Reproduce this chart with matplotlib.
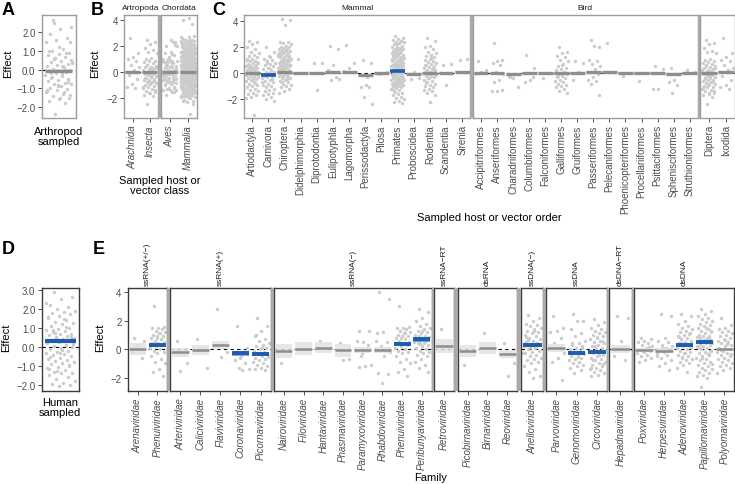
import matplotlib
matplotlib.use('Agg')
import matplotlib.pyplot as plt
from matplotlib.patches import Rectangle
import numpy as np

plt.rcParams['font.family'] = ['Liberation Sans', 'DejaVu Sans']

# ---------------------------------------------------------------- data
# Panel C - mammal orders
mammal_orders = ['Artiodactyla', 'Carnivora', 'Chiroptera', 'Didelphimorphia', 'Diprotodontia',
                 'Eulipotyphla', 'Lagomorpha', 'Perissodactyla', 'Pilosa', 'Primates',
                 'Proboscidea', 'Rodentia', 'Scandentia', 'Sirenia']
artiodactyla = [2.45, 2.4, 2.2, 2.0, 1.8, 1.6, 1.5, 1.4, 1.3, 1.2, 1.1, 1.0, 0.95, 0.9, 0.8, 0.75, 0.7, 0.6,
                0.55, 0.5, 0.45, 0.4, 0.35, 0.3, 0.25, 0.2, 0.15, 0.1, 0.05, 0.0, -0.05, -0.1, -0.15, -0.2,
                -0.25, -0.3, -0.35, -0.4, -0.45, -0.5, -0.6, -0.7, -0.8, -0.9, -1.0, -1.1, -1.2, -1.3, -1.4,
                -1.5, -1.6, -1.7, -1.8, -1.9, -3.2, 0.65, 0.85, -0.55, 1.05, -0.75, 0.3, -0.2]
carnivora = [2.0, 1.6, 1.3, 1.1, 1.0, 0.9, 0.8, 0.7, 0.6, 0.5, 0.4, 0.3, 0.2, 0.1, 0.05, 0.0, -0.1, -0.2,
             -0.3, -0.4, -0.5, -0.6, -0.7, -0.8, -0.9, -1.0, -1.1, -1.2, -1.3, -1.4, -1.5, -1.6, -1.7, -1.8,
             -2.0, -2.1, 0.35, -0.25, -0.45, 0.75, -0.65, 1.2]
chiroptera = [4.15, 4.05, 3.7, 2.4, 2.35, 2.3, 2.2, 2.1, 2.0, 1.95, 1.9, 1.85, 1.8, 1.75, 1.7, 1.65, 1.6,
              1.55, 1.5, 1.45, 1.4, 1.35, 1.3, 1.25, 1.2, 1.15, 1.1, 1.05, 1.0, 0.95, 0.9, 0.85, 0.8, 0.75,
              0.7, 0.65, 0.6, 0.55, 0.5, 0.45, 0.4, 0.35, 0.3, 0.25, 0.2, 0.15, 0.1, 0.05, 0.0, -0.05, -0.1,
              -0.15, -0.2, -0.25, -0.3, -0.35, -0.4, -0.5, -0.6, -0.7, -0.8, -0.9, -1.0, -1.1, -1.2, -1.35,
              -1.5, 1.0, 0.8, 0.6, 0.4, 0.2, 0.0, -0.2, 1.3, 1.7, 0.9, 0.5, 0.3, 0.1, -0.45, -0.65]
didelphimorphia = [1.1]
diprotodontia = [0.8, 0.75, -1.3]
eulipotyphla = [2.05, 1.8, 0.65, 0.2, -0.3, -0.5, -0.45, 0.05]
lagomorpha = [2.15, 0.75, 0.35, 0.15]
perissodactyla = [1.0, 0.8, -0.9, -1.05, -1.1, -1.8, -2.4, -0.3]
pilosa = [-0.1, 0.05, 0.0]
primates = [2.8, 2.7, 2.6, 2.5, 2.45, 2.4, 2.35, 2.3, 2.2, 2.1, 2.0, 1.95, 1.9, 1.85, 1.8, 1.75, 1.7, 1.65,
            1.6, 1.55, 1.5, 1.45, 1.4, 1.35, 1.3, 1.25, 1.2, 1.15, 1.1, 1.05, 1.0, 0.95, 0.9, 0.85, 0.8, 0.75,
            0.7, 0.65, 0.6, 0.55, 0.5, 0.45, 0.4, 0.35, 0.3, 0.25, 0.2, 0.15, 0.1, 0.05, 0.0, -0.05, -0.1,
            -0.15, -0.2, -0.25, -0.3, -0.35, -0.4, -0.45, -0.5, -0.55, -0.6, -0.65, -0.7, -0.75, -0.8, -0.85,
            -0.9, -0.95, -1.0, -1.05, -1.1, -1.15, -1.2, -1.3, -1.4, -1.5, -1.6, -1.7, -1.8, -1.9, -2.0, -2.1,
            -2.2, -2.3, 1.3, 1.1, 0.9, 0.7, 0.5, 0.3, 0.1, -0.1, -0.3, -0.5, -0.7, -0.9, 1.8, 2.2, -1.25, 0.6,
            0.4, 0.2, 0.0, -0.2, -0.4, 1.6, 1.0, -0.6, -1.45]
proboscidea = [-0.45, -0.35, 0.1, -0.1]
rodentia = [2.7, 2.45, 2.1, 2.0, 1.8, 1.6, 1.5, 1.4, 1.3, 1.2, 1.1, 1.0, 0.9, 0.85, 0.8, 0.7, 0.6, 0.5, 0.45,
            0.4, 0.3, 0.25, 0.2, 0.1, 0.05, 0.0, -0.05, -0.1, -0.2, -0.25, -0.3, -0.4, -0.5, -0.6, -0.7, -0.8,
            -0.9, -1.0, -1.1, -1.2, -1.3, -1.4, -1.55, -1.7, -2.2, 0.65, 0.35, -0.35, -0.15, 1.15, -0.75, 0.15]
scandentia = [0.65, 0.7, -0.9, 0.0]
sirenia = [1.0, 1.1, 0.1]
mammal_means = [0.0, -0.15, 0.08, 0.02, 0.0, 0.08, 0.08, -0.15, 0.0, 0.15, -0.05, -0.03, 0.0, 0.05]
mammal_sig = [0, 1, 0, 0, 0, 0, 0, 0, 0, 1, 0, 0, 0, 0]

# Panel C - bird orders
bird_orders = ['Accipitriformes', 'Anseriformes', 'Charadriiformes', 'Columbiformes', 'Falconiformes',
               'Galliformes', 'Gruiformes', 'Passeriformes', 'Pelecaniformes', 'Phoenicopteriformes',
               'Procellariiformes', 'Psittaciformes', 'Sphenisciformes', 'Struthioniformes']
accipitriformes = [0.9, 0.2, 0.1, 0.0]
anseriformes = [2.3, 1.0, 0.9, 0.8, 0.6, 0.1, -0.1, -0.5, -0.7, -1.3, -1.35, -1.4]
charadriiformes = [-0.3, -1.1, -0.4, -0.2]
columbiformes = [1.4, 0.4, -0.5, -0.7, -0.3]
falconiformes = [-0.35, 0.0]
galliformes = [2.0, 1.6, 1.5, 1.3, 1.2, 1.0, 0.9, 0.7, 0.5, 0.4, 0.3, 0.2, 0.1, 0.0, -0.1, -0.2, -0.3, -0.4,
               -0.5, -0.6, -0.7, -0.8, -0.9, -1.0, -1.1, -1.2, -1.35, -1.5, 0.6, -0.25]
gruiformes = [0.9, 0.8, 0.1, -0.5, 0.0]
passeriformes = [2.5, 2.0, 2.1, 1.0, 0.9, 0.7, 0.5, 0.3, 0.1, -0.1, -0.3, -0.5, -0.6, -0.8, -1.7]
pelecaniformes = [2.3, 0.05]
phoenicopteriformes = [-0.2, 0.0]
procellariiformes = [-0.6, 0.0]
psittaciformes = [0.5, 0.3, -1.2, -1.25, 0.0]
sphenisciformes = [0.4, -0.1, -0.5, -0.7, -0.9, -1.5]
struthioniformes = [0.2, 0.1]
bird_means = [0.02, 0.0, -0.05, 0.0, 0.0, -0.03, 0.03, 0.05, 0.07, -0.02, -0.02, -0.02, -0.08, 0.03]

# Panel C - arthropod orders
arth_orders = ['Diptera', 'Ixodida']
diptera = [2.5, 2.3, 2.2, 1.9, 1.7, 1.6, 1.5, 1.1, 1.0, 0.9, 0.85, 0.8, 0.7, 0.6, 0.5, 0.45, 0.4, 0.3, 0.25,
           0.2, 0.1, 0.05, 0.0, -0.05, -0.1, -0.15, -0.2, -0.3, -0.35, -0.4, -0.5, -0.55, -0.6, -0.7, -0.75,
           -0.8, -0.9, -1.0, -1.05, -1.1, -1.2, -1.3, -1.4, -1.5, -1.6, -1.7, -1.8, -2.4, 0.35, -0.25, -0.45,
           -0.65, -0.85, -1.15, 0.15, 0.55, -1.35, -1.55]
ixodida = [2.65, 1.5, 1.2, 1.0, 0.9, 0.6, 0.4, 0.2, -0.2, -0.5, -0.9, -1.1, -1.2]
arth_means = [-0.02, 0.05]

# Panel B - classes (aggregated from the orders)
class_groups = ['Artropoda', 'Chordata']
arth_classes = ['Arachnida', 'Insecta']
chord_classes = ['Aves', 'Mammalia']
class_means = [0.0, 0.0, 0.0, 0.0]

# Panel A / D
arthropod_mean = -0.05
human_sampled = [2.9, 2.6, 2.5, 2.2, 2.1, 2.0, 1.9, 1.85, 1.8, 1.7, 1.6, 1.5, 1.4, 1.3, 1.25, 1.2, 1.1, 1.0,
                 0.95, 0.9, 0.85, 0.8, 0.7, 0.65, 0.6, 0.55, 0.5, 0.45, 0.4, 0.35, 0.3, 0.25, 0.2, 0.1, 0.05,
                 0.0, -0.05, -0.1, -0.2, -0.25, -0.3, -0.4, -0.45, -0.5, -0.6, -0.65, -0.7, -0.75, -0.8, -0.85,
                 -0.9, -1.0, -1.05, -1.1, -1.2, -1.3, -1.35, -1.4, -1.5, -1.6, -1.7, -1.8, -1.9, -1.95, -2.0,
                 -2.05, 1.55, 1.05, 0.75, 0.15, -0.15, -0.55, -0.95, -1.25, 2.3, 1.45, 0.9, 0.5, -0.35, -1.15]
human_mean = 0.28
human_ci = 0.1

# Panel E - virus families
genome_types = ['ssRNA(+/−)', 'ssRNA(+)', 'ssRNA(−)', 'ssRNA−RT', 'dsRNA', 'ssDNA(−)', 'ssDNA',
                'dsDNA−RT', 'dsDNA']
families = [['Arenaviridae', 'Phenuiviridae'],
            ['Arteriviridae', 'Caliciviridae', 'Flaviviridae', 'Coronaviridae', 'Picornaviridae'],
            ['Nairoviridae', 'Filoviridae', 'Hantaviridae', 'Phasmaviridae', 'Paramyxoviridae',
             'Rhabdoviridae', 'Phenuiviridae', 'Peribunyaviridae'],
            ['Retroviridae'],
            ['Picobirnaviridae', 'Birnaviridae', 'Reoviridae'],
            ['Anelloviridae'],
            ['Parvoviridae', 'Genomoviridae', 'Circoviridae'],
            ['Hepadnaviridae'],
            ['Poxviridae', 'Herpesviridae', 'Adenoviridae', 'Papillomaviridae', 'Polyomaviridae']]
arenaviridae = [0.8, 0.6, 0.3, -0.2, -0.6, 0.1]
phenuiviridae = [3.0, 1.55, 1.5, 1.45, 1.4, 1.3, 1.2, 1.1, 1.0, 0.95, 0.9, 0.8, 0.7, 0.6, 0.5, 0.45, 0.4, 0.3,
                 0.2, 0.1, 0.0, -0.1, -0.2, -0.3, -0.5, -0.7, -0.9, -1.0, -1.4, -1.6, -1.9, 0.75, 0.35, 1.15]
arteriviridae = [0.6, -1.0, -1.55]
caliciviridae = [0.7, -1.3]
flaviviridae = [2.8, -0.2, -0.55]
coronaviridae = [1.6, 0.05, -0.5, -0.8, -1.0, -1.3, -1.4, -1.5, -0.3, -0.2, -0.6]
picornaviridae = [2.2, 1.6, 1.3, 0.9, 0.7, 0.6, 0.4, 0.3, 0.2, 0.1, 0.0, -0.1, -0.2, -0.3, -0.4, -0.5, -0.6,
                  -0.7, -0.8, -0.9, -1.0, -1.1, -1.2, -1.3, -1.4, -1.5, -0.35, -0.55, 0.05, 1.0]
nairoviridae = [-0.99]
filoviridae = []
hantaviridae = [0.55]
phasmaviridae = [0.45, -0.7, -0.75]
paramyxoviridae = [1.3, 1.25, 0.5, 0.6, 0.0, -0.5, -1.1, -1.2, -1.25, 0.3, -0.3]
rhabdoviridae = [4.0, 3.5, 1.2, 1.1, 0.5, 0.2, -0.2, -0.5, -1.7, -1.75, -2.4, 0.6, -0.1]
peribunyaviridae = [2.8, 2.6, 2.2, 2.0, 1.8, 1.6, 1.5, 1.4, 1.3, 1.2, 1.1, 1.0, 0.95, 0.9, 0.85, 0.8, 0.7,
                    0.65, 0.6, 0.5, 0.45, 0.4, 0.3, 0.2, 0.1, 0.0, -0.1, -0.2, -0.3, -0.4, -0.5, -0.7, -0.9,
                    -1.1, -1.3, -1.6, 1.25, 0.75, 0.55, 0.35]
retroviridae = [1.4]
picobirnaviridae = [-1.1]
birnaviridae = [1.15]
reoviridae = [0.4, -1.0, -1.9]
anelloviridae = [2.4, 2.2, 2.0, 1.8, 1.7, 1.6, 1.5, 1.4, 1.3, 1.2, 1.1, 1.0, 0.9, 0.8, 0.7, 0.6, 0.5, 0.4,
                 0.3, 0.2, 0.1, 0.0, -0.1, -0.2, -0.3, -0.4, -0.5, -0.6, -0.7, -0.8, -0.9, -1.0, -1.2, -1.4,
                 -1.6, -1.9, -2.0, 0.85, 0.45, 0.15, -0.25, 1.25, 0.65]
parvoviridae = [2.3, 1.5, 1.3, 1.2, 0.8, 0.4, -0.3, -0.6, -0.9, -2.2, 0.1]
genomoviridae = [2.45, 2.0, 1.95, 1.4, 1.1, 0.9, 0.6, 0.4, 0.3, 0.2, 0.1, 0.0, -0.1, -0.2, -0.3, -0.4, -0.5,
                 -0.6, -0.7, -0.8, -0.9, -1.0, -1.1, -1.2, -1.3, -1.5, -1.7, -0.35, -0.55, 0.45, 0.05]
circoviridae = [2.1, 1.9, 1.7, 1.5, 1.4, 1.3, 1.2, 1.1, 1.0, 0.9, 0.8, 0.7, 0.6, 0.5, 0.4, 0.3, 0.2, 0.1, 0.0,
                -0.1, -0.2, -0.3, -0.4, -0.5, -0.6, -0.7, -0.8, -0.9, -1.0, -1.1, -1.2, -1.3, -1.4, -1.5, -1.6,
                -1.7, -1.8, -1.9, 0.55, 0.25, -0.15, -0.45, -0.75, -1.05, 0.85, -1.35]
hepadnaviridae = [2.3, 2.2, 0.6, -0.5, -0.8, 0.1]
poxviridae = [0.8, 0.7, 0.6, 0.5, 0.4, 0.3, 0.2, 0.1, 0.0, -0.1, -0.2, -0.3, -0.4, -0.5, -0.6, -0.8, -0.9,
              0.15, -0.15]
herpesviridae = [2.5, 2.3, 0.8, 0.6, 0.5, 0.3, 0.2, 0.1, 0.0, -0.1, -0.2, -0.3, -0.4, -0.6, -0.8, -1.0, -1.2,
                 -1.5, 0.05, -0.5]
adenoviridae = [2.5, 2.3, 2.0, 1.8, 1.6, 1.5, 1.4, 1.3, 1.2, 1.1, 1.0, 0.9, 0.8, 0.7, 0.6, 0.5, 0.4, 0.3,
                0.2, 0.1, 0.0, -0.1, -0.2, -0.3, -0.4, -0.5, -0.6, -0.7, -0.8, -0.9, -1.0, -1.1, -1.3, -1.6,
                0.45, 0.15, -0.25, 0.85, 1.05, -0.55]
papillomaviridae = [2.8, 2.7, 2.5, 2.3, 2.2, 2.1, 2.0, 1.9, 1.8, 1.7, 1.6, 1.5, 1.4, 1.3, 1.2, 1.1, 1.0, 0.95,
                    0.9, 0.85, 0.8, 0.75, 0.7, 0.65, 0.6, 0.55, 0.5, 0.45, 0.4, 0.35, 0.3, 0.25, 0.2, 0.1,
                    0.0, -0.1, -0.2, -0.3, -0.4, -0.5, -0.6, -0.7, -0.8, -0.9, -1.0, -1.1, -1.2, -1.3, -1.4,
                    -1.5, -1.6, -1.7, -1.8, -1.9, -2.0, -2.7, 1.25, 0.65, 0.15, -0.35, -0.65, -1.05, 1.45,
                    0.05, -0.15]
polyomaviridae = [2.2, 1.7, 1.5, 1.4, 1.3, 1.2, 1.1, 1.0, 0.9, 0.8, 0.7, 0.6, 0.5, 0.4, 0.3, 0.2, 0.1, 0.0,
                  -0.1, -0.2, -0.3, -0.4, -0.5, -0.6, -0.7, -0.8, -0.9, -1.0, -1.1, -1.2, -1.3, -1.5, -1.7,
                  0.35, -0.05, -0.35, 0.65]
family_means = [[0.0, 0.3], [-0.24, -0.07, 0.28, -0.3, -0.33],
                [-0.14, 0.02, 0.09, -0.09, -0.05, -0.07, 0.35, 0.68], [0.21], [-0.14, 0.07, -0.33],
                [0.28], [0.09, -0.28, -0.23], [0.0], [-0.07, -0.1, 0.26, 0.5, 0.0]]
family_ci = [[0.4, 0.15], [0.35, 0.35, 0.3, 0.2, 0.15],
             [0.47, 0.45, 0.4, 0.45, 0.2, 0.2, 0.15, 0.15], [0.5], [0.45, 0.4, 0.3],
             [0.12], [0.3, 0.15, 0.12], [0.3], [0.15, 0.15, 0.12, 0.12, 0.1]]
family_sig = [[0, 1], [0, 0, 0, 1, 1], [0, 0, 0, 0, 0, 0, 1, 1], [0], [0, 0, 0], [1], [0, 1, 1], [0],
              [0, 0, 1, 1, 0]]

mammal_pts = [artiodactyla, carnivora, chiroptera, didelphimorphia, diprotodontia, eulipotyphla, lagomorpha,
              perissodactyla, pilosa, primates, proboscidea, rodentia, scandentia, sirenia]
bird_pts = [accipitriformes, anseriformes, charadriiformes, columbiformes, falconiformes, galliformes,
            gruiformes, passeriformes, pelecaniformes, phoenicopteriformes, procellariiformes,
            psittaciformes, sphenisciformes, struthioniformes]
arth_pts = [diptera, ixodida]
family_pts = [[arenaviridae, phenuiviridae],
              [arteriviridae, caliciviridae, flaviviridae, coronaviridae, picornaviridae],
              [nairoviridae, filoviridae, hantaviridae, phasmaviridae, paramyxoviridae, rhabdoviridae,
               phenuiviridae, peribunyaviridae],
              [retroviridae], [picobirnaviridae, birnaviridae, reoviridae], [anelloviridae],
              [parvoviridae, genomoviridae, circoviridae], [hepadnaviridae],
              [poxviridae, herpesviridae, adenoviridae, papillomaviridae, polyomaviridae]]

# ---------------------------------------------------------------- helpers
W, H = 735, 485
fig = plt.figure(figsize=(W / 100, H / 100), dpi=100)
fig.patch.set_facecolor('white')

PT = '#cccccc'
BLUE = '#1d5cb0'
BLUE_BAND = '#6a9bdc'
GREY_BAR = '#8e8e8e'
TICKLAB = '#4d4d4d'


def add_ax(l, t, r, b):
    return fig.add_axes([l / W, 1 - b / H, (r - l) / W, (b - t) / H])


def ftext(x, y, s, **kw):
    fig.text(x / W, 1 - y / H, s, **kw)


def gap(l, r, t, b, col='#a9a9a9'):
    fig.patches.append(Rectangle((l / W, 1 - b / H), (r - l) / W, (b - t) / H,
                                 transform=fig.transFigure, color=col, lw=0, zorder=0))


def jitter(n, w=0.4):
    return ((np.arange(n) * 0.6180339887 + 0.29) % 1 - 0.5) * 2 * w


def draw_cat(ax, x, pts, mean, hw, sig, band_grey, bw=0.86, lw_grey=2.0, lw_blue=2.4):
    pts = np.asarray(pts, float)
    if len(pts):
        ax.scatter(x + jitter(len(pts)), pts, s=6, color=PT, lw=0, zorder=2)
    ax.bar(x, 2 * hw, bottom=mean - hw, width=bw, color=BLUE_BAND if sig else band_grey,
           alpha=0.85, lw=0, zorder=3)
    ax.hlines(mean, x - bw / 2, x + bw / 2, color=BLUE if sig else GREY_BAR,
              lw=lw_blue if sig else lw_grey, zorder=4)


def style(ax, ylim, spine_col, yticks=None, ylabels=None, xlabels=None, italic=False, xticks=True):
    ax.set_ylim(*ylim)
    ax.axhline(0, color='black', lw=0.8, ls=(0, (3, 3)), zorder=1)
    for s in ax.spines.values():
        s.set_color(spine_col)
        s.set_linewidth(1.0)
    ax.tick_params(axis='both', length=3, width=0.6, color='#333333', labelsize=7,
                   labelcolor=TICKLAB, pad=1.5)
    if yticks is not None:
        ax.set_yticks(yticks)
        ax.set_yticklabels(ylabels)
    else:
        ax.set_yticks([])
    if xlabels is not None:
        ax.set_xticks(np.arange(len(xlabels)))
        ax.set_xticklabels(xlabels, rotation=90, style='italic' if italic else 'normal')
    elif not xticks:
        ax.set_xticks([])


# ---------------------------------------------------------------- top row
TOP, BOT = 15.7, 119

# A
axA = add_ax(41.7, TOP, 75.5, BOT)
axA.set_xlim(-0.5, 0.5)
arthropod_pts = ixodida + diptera
draw_cat(axA, 0, arthropod_pts, arthropod_mean, 0.1, 0, '#d4d4d4', bw=0.8, lw_grey=2.4)
style(axA, (-2.6, 2.95), '#9c9c9c', [-2, -1, 0, 1, 2], ['−2.0', '−1.0', '0.0', '1.0', '2.0'], xticks=False)

# B
b_facets = [(124, 158.3, arth_classes, [ixodida, diptera], class_means[:2]),
            (160.5, 197, chord_classes, [sum(bird_pts, []), sum(mammal_pts, [])], class_means[2:])]
for k, (l, r, cats, pts, means) in enumerate(b_facets):
    ax = add_ax(l, TOP, r, BOT)
    ax.set_xlim(-0.5, len(cats) - 0.5)
    for i in range(len(cats)):
        draw_cat(ax, i, pts[i], means[i], 0.08, 0, '#d4d4d4', lw_grey=2.4)
    if k == 0:
        style(ax, (-3.5, 4.43), '#9c9c9c', [-2, 0, 2, 4], ['−2', '0', '2', '4'], cats, italic=True)
    else:
        style(ax, (-3.5, 4.43), '#9c9c9c', None, None, cats, italic=True)
    ftext((l + r) / 2, 8.5, class_groups[k], ha='center', va='center', fontsize=6, color='#1a1a1a')
gap(158.3, 160.5, TOP, BOT)

# C
c_facets = [(244, 470.3, mammal_orders, mammal_pts, mammal_means, mammal_sig, 'Mammal'),
            (473, 697.7, bird_orders, bird_pts, bird_means, [0] * len(bird_orders), 'Bird'),
            (700.3, 734.5, arth_orders, arth_pts, arth_means, [0, 0], '')]
for k, (l, r, cats, pts, means, sig, lab) in enumerate(c_facets):
    ax = add_ax(l, TOP, r, BOT)
    ax.set_xlim(-0.5, len(cats) - 0.5)
    for i in range(len(cats)):
        draw_cat(ax, i, pts[i], means[i], 0.08, sig[i], '#d4d4d4', bw=0.92, lw_grey=2.4, lw_blue=2.6)
    if k == 0:
        style(ax, (-3.43, 4.45), '#9c9c9c', [-2, 0, 2, 4], ['−2', '0', '2', '4'], cats)
    else:
        style(ax, (-3.43, 4.45), '#9c9c9c', None, None, cats)
    if lab:
        ftext((l + r) / 2, 8.5, lab, ha='center', va='center', fontsize=6, color='#1a1a1a')
gap(470.3, 473, TOP, BOT)
gap(697.7, 700.3, TOP, BOT)

# ---------------------------------------------------------------- bottom row
TOPE, BOTE = 289, 392

# D
axD = add_ax(41.7, TOPE, 78.5, BOTE)
axD.set_xlim(-0.5, 0.5)
draw_cat(axD, 0, human_sampled, human_mean, human_ci, 1, '#d4d4d4', bw=0.84, lw_blue=3.0)
style(axD, (-2.32, 3.09), '#3a3a3a', [-2, -1, 0, 1, 2, 3],
      ['−2.0', '−1.0', '0.0', '1.0', '2.0', '3.0'], xticks=False)

# E
e_bounds = [(127.7, 167.3), (170, 270.7), (274, 431.7), (434, 454), (457.7, 517.3), (521, 543.3),
            (546, 607.3), (609, 631.7), (634, 734.3)]
for k, (l, r) in enumerate(e_bounds):
    cats = families[k]
    ax = add_ax(l, TOPE, r, BOTE)
    ax.set_xlim(-0.5, len(cats) - 0.5)
    for i in range(len(cats)):
        draw_cat(ax, i, family_pts[k][i], family_means[k][i], family_ci[k][i], family_sig[k][i],
                 '#e2e2e2', bw=0.86, lw_grey=1.8, lw_blue=2.8)
    if k == 0:
        style(ax, (-2.95, 4.3), '#3a3a3a', [-2, 0, 2, 4], ['−2', '0', '2', '4'], cats, italic=True)
    else:
        style(ax, (-2.95, 4.3), '#3a3a3a', None, None, cats, italic=True)
    ftext((l + r) / 2, 286, genome_types[k], ha='center', va='bottom', rotation=90,
          fontsize=6, color='#1a1a1a')
    if k > 0:
        gap(e_bounds[k - 1][1], l, TOPE, BOTE)

# ---------------------------------------------------------------- titles and letters
for x, y, s in [(2, 2, 'A'), (91, 2, 'B'), (212, 2, 'C'), (2, 241, 'D'), (93, 241, 'E')]:
    ftext(x, y, s, ha='left', va='top', fontsize=13, fontweight='bold')

for x, y in [(8, 64), (95, 64), (215.5, 64), (6, 338), (100, 338)]:
    ftext(x, y, 'Effect', ha='center', va='center', rotation=90, fontsize=8)

ftext(58.5, 127, 'Arthropod\nsampled', ha='center', va='top', fontsize=8, linespacing=1.05)
ftext(160, 176, 'Sampled host or\nvector class', ha='center', va='top', fontsize=8, linespacing=1.0)
ftext(489, 218, 'Sampled host or vector order', ha='center', va='center', fontsize=8)
ftext(60, 398, 'Human\nsampled', ha='center', va='top', fontsize=8, linespacing=1.05)
ftext(431, 478, 'Family', ha='center', va='center', fontsize=8)

fig.savefig('out.png', dpi=100)
